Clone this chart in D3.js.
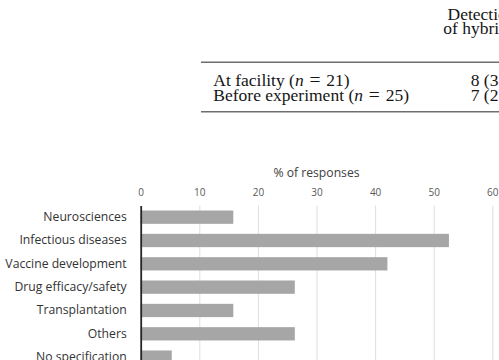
<!DOCTYPE html>
<html>
<head>
<meta charset="utf-8">
<script src="https://cdn.jsdelivr.net/npm/d3@7"></script>
<style>
  html, body { margin: 0; padding: 0; background: #fff; }
  svg { display: block; }
</style>
</head>
<body>
<script>
// ---- data ----
const categories = ["Neurosciences", "Infectious diseases", "Vaccine development",
  "Drug efficacy/safety", "Transplantation", "Others", "No specification"];
const values = [15.8, 52.6, 42.1, 26.3, 15.8, 26.3, 5.3];
const xTicks = [0, 10, 20, 30, 40, 50, 60];
const axisTitle = "% of responses";

const headerLines = ["Detection", "of hybrid"];
const rowLabels = ["At facility", "Before experiment"];
const rowN = [21, 25];
const rowDetected = ["8 (38 %)", "7 (28 %)"];

(function () {
// ---- setup ----
const W = 499, H = 360;
const svg = d3.select("body").append("svg").attr("width", W).attr("height", H);

// ---- table fragment ----
const serif = "'Liberation Serif', 'DejaVu Serif', serif";
const tbl = svg.append("g").attr("font-family", serif).attr("font-size", 17.5).attr("fill", "#161616");

tbl.selectAll("text.hdr").data(headerLines).join("text")
  .attr("class", "hdr")
  .attr("x", (d, i) => i === 0 ? 447.5 : 443.3)
  .attr("y", (d, i) => 19.5 + i * 14.6)
  .text(d => d);

tbl.append("line").attr("x1", 201).attr("x2", W).attr("y1", 62.3).attr("y2", 62.3)
  .attr("stroke", "#6e6e6e").attr("stroke-width", 1.4);
tbl.append("line").attr("x1", 201).attr("x2", W).attr("y1", 111.7).attr("y2", 111.7)
  .attr("stroke", "#6e6e6e").attr("stroke-width", 1.4);

const rows = tbl.selectAll("g.row").data(rowLabels).join("g").attr("class", "row");
rows.append("text")
  .attr("x", 213.3)
  .attr("y", (d, i) => 86 + i * 15.4)
  .each(function (d, i) {
    const t = d3.select(this);
    t.append("tspan").text(d + " (");
    t.append("tspan").attr("font-style", "italic").text("n");
    t.append("tspan").text("\u2004");
    t.append("tspan").attr("font-size", 19.5).text("=");
    t.append("tspan").text("\u2004" + rowN[i] + ")");
  });
rows.append("text")
  .attr("x", 470.7)
  .attr("y", (d, i) => 86 + i * 15.4)
  .text((d, i) => rowDetected[i]);

// ---- bar chart ----
const sans = "'Open Sans', 'Noto Sans', sans-serif";
const x = d3.scaleLinear().domain([0, 60]).range([140.7, 492.3]);
const y = d3.scaleBand().domain(categories).range([205.5, 368.8])
  .paddingInner(0.43).paddingOuter(0.215);

// gridlines
const grid = svg.append("g").attr("transform", `translate(0,${y.range()[0]})`)
  .call(d3.axisBottom(x).tickValues(xTicks.filter(v => v > 0))
    .tickSize(y.range()[1] - y.range()[0]).tickFormat(""));
grid.select(".domain").remove();
grid.selectAll(".tick line").attr("stroke", "#dedede").attr("stroke-width", 1);

// top tick labels
const topAxis = svg.append("g").attr("transform", `translate(0,${y.range()[0]})`)
  .call(d3.axisTop(x).tickValues(xTicks).tickSize(0).tickPadding(10));
topAxis.select(".domain").remove();
topAxis.selectAll(".tick text").attr("font-family", sans).attr("font-size", 10)
  .attr("fill", "#595959");

// axis title
svg.append("text").attr("x", x(30)).attr("y", 177)
  .attr("text-anchor", "middle").attr("font-family", sans).attr("font-size", 12.2)
  .attr("fill", "#404040").text(axisTitle);

// bars
svg.append("g").selectAll("rect").data(categories).join("rect")
  .attr("x", x(0))
  .attr("y", d => y(d))
  .attr("width", (d, i) => x(values[i]) - x(0))
  .attr("height", y.bandwidth())
  .attr("fill", "#a6a6a6");

// category axis
const left = svg.append("g").attr("transform", `translate(${x(0)},0)`)
  .call(d3.axisLeft(y).tickSize(0).tickPadding(14));
left.select(".domain").attr("stroke", "#262626").attr("stroke-width", 1.8);
left.selectAll(".tick text").attr("font-family", sans).attr("font-size", 12.2)
  .attr("fill", "#333333");
})();
</script>
</body>
</html>
